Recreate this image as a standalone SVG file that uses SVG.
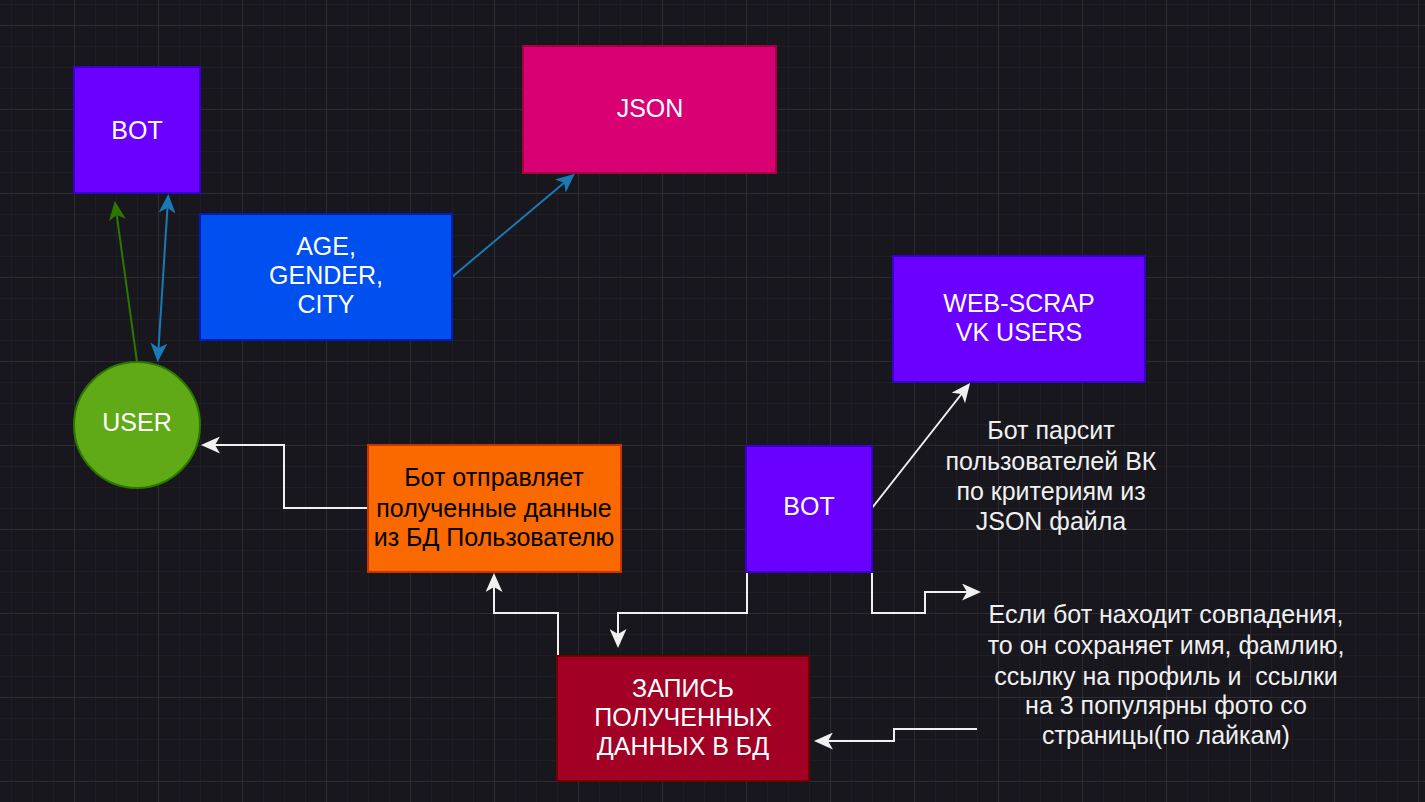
<svg xmlns="http://www.w3.org/2000/svg" width="1425" height="802" viewBox="0 0 1425 802">
<defs>
<pattern id="minor" x="-10" y="4" width="21" height="21" patternUnits="userSpaceOnUse">
<path d="M0,0 H21 M0,0 V21" fill="none" stroke="#25242b" stroke-width="1"/>
</pattern>
<pattern id="major" x="-10" y="25" width="84" height="84" patternUnits="userSpaceOnUse">
<path d="M0,0 H84 M0,0 V84" fill="none" stroke="#3a393f" stroke-width="1"/>
</pattern>
<marker id="aw" viewBox="0 0 19 17" refX="14" refY="8.5" markerWidth="19" markerHeight="17" markerUnits="userSpaceOnUse" orient="auto-start-reverse">
<path d="M0,0 L19,8.5 L0,17 L5,8.5 Z" fill="#f0f0f0"/>
</marker>
<marker id="ab" viewBox="0 0 19 17" refX="14" refY="8.5" markerWidth="19" markerHeight="17" markerUnits="userSpaceOnUse" orient="auto-start-reverse">
<path d="M0,0 L19,8.5 L0,17 L5,8.5 Z" fill="#1a7ab5"/>
</marker>
<marker id="ag" viewBox="0 0 19 17" refX="14" refY="8.5" markerWidth="19" markerHeight="17" markerUnits="userSpaceOnUse" orient="auto-start-reverse">
<path d="M0,0 L19,8.5 L0,17 L5,8.5 Z" fill="#2d7600"/>
</marker>
</defs>
<style>
text{font-family:"Liberation Sans",Arial,sans-serif;font-size:25px;text-anchor:middle;dominant-baseline:central;white-space:pre}
.w{fill:#ffffff}
.k{fill:#000000}
.lt{fill:#f0f0f0}
.box{stroke-width:2}
.cw{fill:none;stroke:#f0f0f0;stroke-width:2;marker-end:url(#aw)}
.cb{fill:none;stroke:#1a7ab5;stroke-width:2}
.cg{fill:none;stroke:#2d7600;stroke-width:2;marker-end:url(#ag)}
</style>
<rect width="1425" height="802" fill="#18171e"/>
<rect width="1425" height="802" fill="url(#minor)"/>
<rect width="1425" height="802" fill="url(#major)"/>

<g id="connectors">
<path class="cg" d="M137,362 L115.5,206"/>
<path class="cb" d="M158,357 L168,199" marker-start="url(#ab)" marker-end="url(#ab)"/>
<path class="cb" d="M452,277 L571,177" marker-end="url(#ab)"/>
<path class="cw" d="M872,508 L967,387"/>
<path class="cw" d="M368,508 H284 V445 H206"/>
<path class="cw" d="M558,655 V613 H494 V578"/>
<path class="cw" d="M747,572 V613 H618 V643"/>
<path class="cw" d="M872,572 V613 H925 V592 H976"/>
<path class="cw" d="M977,729 H894 V741 H819"/>
</g>

<g id="bot1">
<rect class="box" x="74" y="67" width="126" height="126" fill="#6a00ff" stroke="#3700cc"/>
<text class="w" x="137" y="130">BOT</text>
</g>
<g id="json">
<rect class="box" x="523" y="46" width="253" height="127" fill="#d80073" stroke="#a50040"/>
<text class="w" x="650" y="108">JSON</text>
</g>
<g id="params">
<rect class="box" x="200" y="214" width="252" height="126" fill="#0050ef" stroke="#001dbc"/>
<text class="w" x="326" y="246">AGE,</text>
<text class="w" x="326" y="275">GENDER,</text>
<text class="w" x="326" y="304">CITY</text>
</g>
<g id="user">
<circle class="box" cx="137" cy="425" r="63" fill="#60a917" stroke="#2d7600"/>
<text class="w" x="137" y="422">USER</text>
</g>
<g id="webscrap">
<rect class="box" x="893" y="256" width="252" height="126" fill="#6a00ff" stroke="#3700cc"/>
<text class="w" x="1019" y="303">WEB-SCRAP</text>
<text class="w" x="1019" y="332">VK USERS</text>
</g>
<g id="bot2">
<rect class="box" x="746" y="446" width="126" height="126" fill="#6a00ff" stroke="#3700cc"/>
<text class="w" x="809" y="506">BOT</text>
</g>
<g id="send">
<rect class="box" x="368" y="445" width="253" height="127" fill="#fa6800" stroke="#c73500"/>
<text class="k" x="494" y="477">Бот отправляет</text>
<text class="k" x="494" y="508">полученные данные</text>
<text class="k" x="494" y="537">из БД Пользователю</text>
</g>
<g id="db">
<rect class="box" x="557" y="656" width="252" height="125" fill="#a20025" stroke="#6f0000"/>
<text class="w" x="683" y="688">ЗАПИСЬ</text>
<text class="w" x="683" y="717">ПОЛУЧЕННЫХ</text>
<text class="w" x="683" y="746">ДАННЫХ В БД</text>
</g>
<g id="parse-note">
<text class="lt" x="1051" y="430">Бот парсит</text>
<text class="lt" x="1051" y="461">пользователей ВК</text>
<text class="lt" x="1051" y="491">по критериям из</text>
<text class="lt" x="1051" y="521">JSON файла</text>
</g>
<g id="match-note">
<text class="lt" x="1166" y="614">Если бот находит совпадения,</text>
<text class="lt" x="1166" y="645">то он сохраняет имя, фамлию,</text>
<text class="lt" x="1166" y="676">ссылку на профиль и  ссылки</text>
<text class="lt" x="1166" y="705">на 3 популярны фото со</text>
<text class="lt" x="1166" y="735">страницы(по лайкам)</text>
</g>
</svg>
